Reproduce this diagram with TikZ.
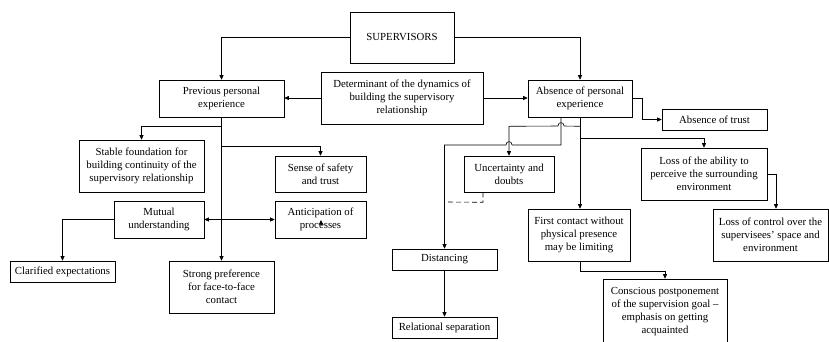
\documentclass[tikz,border=0pt]{standalone}
\usepackage{fontspec}
\setmainfont{Liberation Serif}
\usetikzlibrary{arrows.meta}
\begin{document}
\begin{tikzpicture}[x=1pt,y=-1pt,
  box/.style={draw,line width=0.6pt,align=center,inner sep=1pt,font=\fontsize{10.8}{13}\selectfont},
  tip/.style={Triangle[length=4.5pt,width=4pt]},
  arr/.style={line width=0.6pt,-{Triangle[length=4.5pt,width=4pt]}},
  ln/.style={line width=0.6pt}]
\useasboundingbox (0,0) rectangle (829,341);
\clip (0,0) rectangle (829,341);
% nodes
\node[box,minimum width=104pt,minimum height=51pt] (sup) at (402,37.5) {SUPERVISORS};
\node[box,minimum width=125pt,minimum height=37pt] (prev) at (221.5,98.5) {Previous personal\\experience};
\node[box,minimum width=162pt,minimum height=52pt] (det) at (402,98) {Determinant of the dynamics of\\building the supervisory\\relationship};
\node[box,minimum width=104pt,minimum height=37pt] (abs) at (580,98.5) {Absence of personal\\experience};
\node[box,minimum width=105pt,minimum height=21pt] (trust) at (714.5,119.5) {Absence of trust};
\node[box,minimum width=125pt,minimum height=52pt] (stable) at (141.5,166) {Stable foundation for\\building continuity of the\\supervisory relationship};
\node[box,minimum width=91pt,minimum height=36pt] (sense) at (320.5,174) {Sense of safety\\and trust};
\node[box,minimum width=90pt,minimum height=37pt] (mutual) at (159,219.5) {Mutual\\understanding};
\node[box,minimum width=91pt,minimum height=37pt] (antic) at (320.5,219.5) {Anticipation of\\processes};
\node[box,minimum width=105pt,minimum height=21pt] (clar) at (62.5,271.5) {Clarified expectations};
\node[box,minimum width=105pt,minimum height=52pt] (strong) at (221.5,287) {Strong preference\\for face-to-face\\contact};
\node[box,minimum width=90pt,minimum height=36pt] (unc) at (509,174) {Uncertainty and\\doubts};
\node[box,minimum width=105pt,minimum height=21pt] (dist) at (444.5,259.5) {Distancing};
\node[box,minimum width=105pt,minimum height=21pt] (rel) at (444.5,327.5) {Relational separation};
\node[box,minimum width=102pt,minimum height=52pt] (first) at (579,235) {First contact without\\physical presence\\may be limiting};
\node[box,minimum width=126pt,minimum height=52pt] (lossab) at (704,174) {Loss of the ability to\\perceive the surrounding\\environment};
\node[box,minimum width=115pt,minimum height=52pt] (lossctrl) at (770.5,235) {Loss of control over the\\supervisees’ space and\\environment};
\node[box,minimum width=124pt,minimum height=66pt] (conscious) at (665,312) {Conscious postponement\\of the supervision goal –\\emphasis on getting\\acquainted};
% connectors left
\draw[arr] (sup.west) -| (prev.north);
\draw[arr] (sup.east) -| (abs.north);
\draw[arr] (det.west) -- (det.west -| prev.east);
\draw[arr] (det.east) -- (det.east -| abs.west);
\draw[arr] (abs.east) -- ++(10,0) |- (trust.west);
\draw[arr] (prev.south) -- (strong.north);
\path (prev.south) ++(0,9) coordinate (p1);
\path (prev.south) ++(0,29) coordinate (p2);
\draw[arr] (p1) -| (stable.north);
\draw[arr] (p2) -| (sense.north);
\draw[ln,{Triangle[length=4.5pt,width=4pt]}-{Triangle[length=4.5pt,width=4pt]}] (mutual.east) -- (antic.west);
\draw[arr] (mutual.west) -| (clar.north);
\draw[arr] ([xshift=0.5pt,yshift=-5.5pt]antic.center) -- ([xshift=0.5pt,yshift=-0.5pt]antic.center);
% connectors right
\draw[arr] (abs.south) -- (abs.south |- first.north);
\path (abs.south) ++(0,21) coordinate (a2);
\draw[arr] (a2) -| (lossab.north);
\coordinate (lc) at ([xshift=5.5pt]lossctrl.north);
\draw[arr] (lossab.east) -| (lc);
\draw[arr] (first.south) ++(1,0) -- ++(0,10) -| (conscious.north);
\path (abs.south) ++(0,9) coordinate (a1);
\draw[arr] (a1) -- (564,126) .. controls (564,121.5) and (558,121.5) .. (558,126) -- (unc.north |- a1) -- (unc.north);
\coordinate (h1) at ([xshift=-19pt]abs.south);
\draw[arr] (h1) -- (561,145) -- (512,145) .. controls (512,140.5) and (506,140.5) .. (506,145) -- (444.5,145) -- (dist.north);
\draw[ln,dash pattern=on 5pt off 3pt] ([xshift=-26pt]unc.south) -- ++(0,10) -- (447,202);
\draw[arr] (dist.south) -- (rel.north);
\end{tikzpicture}
\end{document}
